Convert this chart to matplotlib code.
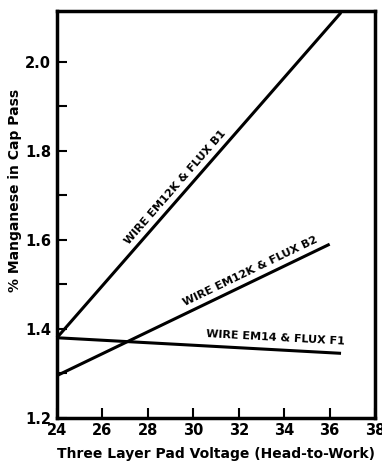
import matplotlib
matplotlib.use("Agg")
import matplotlib.pyplot as plt
import numpy as np

# line end points
volts_b1 = [24, 36.5]
mn_b1 = [1.38, 2.11]
volts_b2 = [24, 36]
mn_b2 = [1.295, 1.59]
volts_f1 = [24, 36.5]
mn_f1 = [1.38, 1.345]

labels = ["WIRE EM12K & FLUX B1", "WIRE EM12K & FLUX B2", "WIRE EM14 & FLUX F1"]
label_x = [29.4, 32.6, 33.6]
xticks = [24, 26, 28, 30, 32, 34, 36, 38]
yticks = [1.2, 1.4, 1.6, 1.8, 2.0]

fig = plt.figure(figsize=(3.82, 4.68), dpi=100)
ax = fig.add_axes([0.149, 0.107, 0.833, 0.869])

series = [(volts_b1, mn_b1), (volts_b2, mn_b2), (volts_f1, mn_f1)]
for (xs, ys) in series:
    ax.plot(xs, ys, color='black', lw=2.2, solid_capstyle='butt', clip_on=False)

ax.set_xlim(24, 38)
ax.set_ylim(1.2, 2.113)

# labels running along each line
offsets = [0.014, 0.014, 0.016]
for (xs, ys), lab, lx, off in zip(series, labels, label_x, offsets):
    slope = (ys[1] - ys[0]) / (xs[1] - xs[0])
    ly = ys[0] + slope * (lx - xs[0])
    ang = np.degrees(np.arctan(slope))
    ax.text(lx, ly + off, lab, rotation=ang, transform_rotates_text=True,
            rotation_mode='anchor', ha='center', va='bottom',
            fontsize=8, fontweight='bold')

ax.set_xticks(xticks)
ax.set_yticks(yticks)
ax.set_yticks([1.3, 1.5, 1.7, 1.9], minor=True)
ax.set_yticklabels(['1.2', '1.4', '1.6', '1.8', '2.0'])
ax.tick_params(direction='in', length=7, width=1.5, labelsize=10.5, pad=4)
ax.tick_params(which='minor', direction='in', length=7, width=1.5)
for t in ax.get_xticklabels() + ax.get_yticklabels():
    t.set_fontweight('bold')
for s in ax.spines.values():
    s.set_linewidth(2.5)

ax.set_xlabel('Three Layer Pad Voltage (Head-to-Work)', fontsize=10, fontweight='bold', labelpad=6)
ax.set_ylabel('% Manganese in Cap Pass', fontsize=10, fontweight='bold')
ax.yaxis.set_label_coords(-0.11, 0.56)

fig.savefig('out.png', dpi=100)
